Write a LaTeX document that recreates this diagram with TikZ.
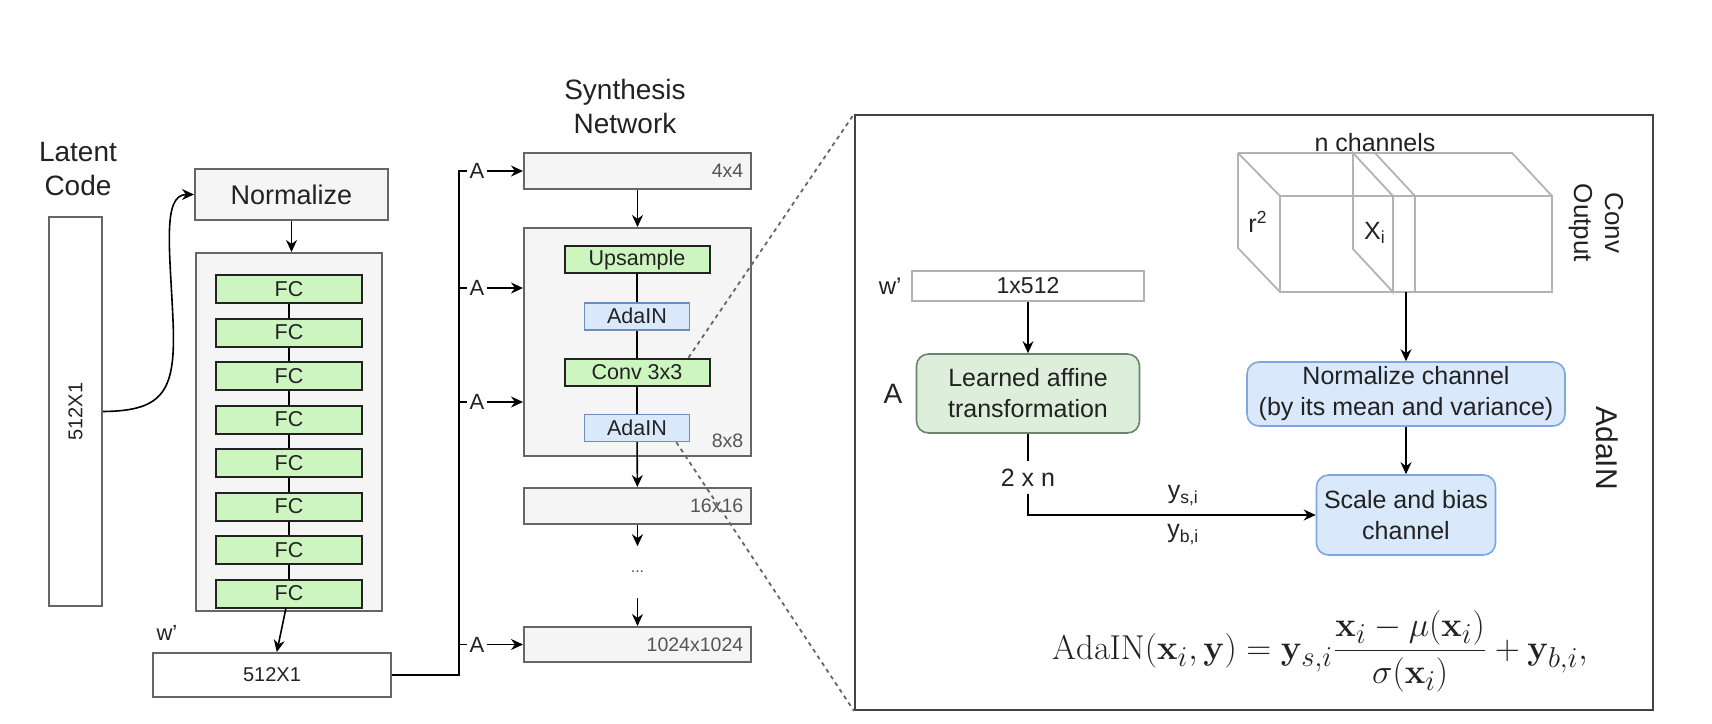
\documentclass[tikz,border=0pt]{standalone}
\usepackage[no-math]{fontspec}
\setmainfont{Liberation Sans}
\usetikzlibrary{positioning,arrows.meta,calc}
\definecolor{boxGray}{HTML}{F5F5F5}
\definecolor{lineGray}{HTML}{666666}
\definecolor{fcGreen}{HTML}{CDF5BF}
\definecolor{affGreen}{HTML}{DDEEDA}
\definecolor{affLine}{HTML}{6E836E}
\definecolor{ninBlue}{HTML}{DAE8FC}
\definecolor{ninLine}{HTML}{6C8EBF}
\definecolor{panBlue}{HTML}{7EA6E0}
\definecolor{cubeGray}{HTML}{B3B3B3}
\definecolor{inkDark}{HTML}{222222}
\definecolor{dimGray}{HTML}{555555}

\begin{document}
\begin{tikzpicture}[x=0.5pt, y=-0.5pt, >={Stealth[length=6pt,width=5.5pt]}, line width=0.8pt, text=inkDark,
          title/.style={font=\fontsize{14}{17}\selectfont, align=center},
          plain/.style={draw=lineGray, fill=boxGray, line width=1pt, inner sep=0pt},
          vec/.style={draw=lineGray, fill=white, line width=1pt, inner sep=0pt, font=\fontsize{10}{12}\selectfont},
          layer/.style={draw=inkDark, fill=fcGreen, line width=1pt, minimum width=73pt, minimum height=14pt, inner sep=0pt, font=\fontsize{10.75}{12}\selectfont},
          ada/.style={draw=ninLine, fill=ninBlue, line width=0.8pt, minimum width=52.5pt, minimum height=13.5pt, inner sep=0pt, font=\fontsize{10.75}{12}\selectfont},
          res/.style={plain, minimum width=113.5pt},
          dimlbl/.style={anchor=east, text=dimGray, inner sep=0pt, font=\fontsize{9.75}{11}\selectfont},
          tap/.style={inner sep=1pt, font=\fontsize{11}{12}\selectfont},
          ptxt/.style={font=\fontsize{12.5}{15.5}\selectfont, align=center},
          rbox/.style={ptxt, rounded corners=6pt, line width=0.8pt, inner sep=0pt},
          cubeline/.style={draw=cubeGray, line width=0.9pt},
          zoomline/.style={draw=lineGray, dash pattern=on 2pt off 2pt, line width=0.9pt}]
        \useasboundingbox (0,0) rectangle (1712,723);
        % mapping network
        \node[title] (latentlbl) at (78,169) {Latent\\Code};
        \node[vec, minimum width=26.5pt, minimum height=194.5pt] (latent) at (75.5,411.5) {};
        \node[rotate=90, font=\fontsize{10}{12}\selectfont] (latenttxt) at (latent.center) {512X1};
        \node[plain, font=\fontsize{13.5}{16}\selectfont, minimum width=96.5pt, minimum height=25.5pt] (norm) at (291.5,194.5) {Normalize};
        \node[plain, minimum width=93pt, minimum height=179pt] (stack) at (289,432) {};
        \node[layer] (fc1) at (289,289) {FC};
        \node[layer, below=6.75pt of fc1] (fc2) {FC};
        \node[layer, below=6.75pt of fc2] (fc3) {FC};
        \node[layer, below=6.75pt of fc3] (fc4) {FC};
        \node[layer, below=6.75pt of fc4] (fc5) {FC};
        \node[layer, below=6.75pt of fc5] (fc6) {FC};
        \node[layer, below=6.75pt of fc6] (fc7) {FC};
        \node[layer, below=6.75pt of fc7] (fc8) {FC};
        \node[vec, minimum width=119pt, minimum height=22pt] (wvec) at (272,675) {512X1};
        \node[font=\fontsize{11}{12}\selectfont] (wlbl) at (167,633) {w'};
        \draw[->] (latent.east) .. controls (165,411) and (176,390) .. (173,320) .. controls (170,250) and (162,194.5) .. (norm.west);
        \draw[->] (norm.south) -- (norm.south |- stack.north);
        \draw (fc1) -- (fc2) -- (fc3) -- (fc4) -- (fc5) -- (fc6) -- (fc7) -- (fc8);
        \draw[->] (fc8) -- (wvec);
        % synthesis network
        \node[title] (synlbl) at (625,106) {Synthesis\\Network};
        \node[res, minimum height=18pt] (r4) at (637.5,171) {};
        \node[res, minimum height=114pt] (r8) at (637.5,342) {};
        \node[layer, minimum width=72.5pt, minimum height=13.5pt] (ups) at (637,259.5) {Upsample};
        \node[ada, below=14pt of ups] (ada1) {AdaIN};
        \node[layer, minimum width=72.5pt, minimum height=13.5pt, below=13.5pt of ada1] (conv) {Conv 3x3};
        \node[ada, below=13.5pt of conv] (ada2) {AdaIN};
        \node[res, minimum height=18pt] (r16) at (637.5,506) {};
        \node[text=dimGray, minimum height=25pt, inner sep=0pt, font=\fontsize{8}{9}\selectfont] (more) at (637.5,572) {...};
        \node[res, minimum height=17.5pt] (r1024) at (637.5,644.5) {};
        \node[dimlbl] at ([xshift=-4pt]r4.east) {4x4};
        \node[dimlbl] at ([xshift=-4pt, yshift=8pt]r8.south east) {8x8};
        \node[dimlbl] at ([xshift=-4pt]r16.east) {16x16};
        \node[dimlbl] at ([xshift=-4pt]r1024.east) {1024x1024};
        \draw[->] (r4) -- (r8);
        \draw (ups) -- (ada1) -- (conv) -- (ada2);
        \draw[->] (ada2) -- (r16);
        \draw[->] (r16) -- (more);
        \draw[->] (more) -- (r1024);
        % style taps
        \coordinate (bus) at (459,171);
        \node[tap] (a4) at (477,171) {A};
        \node[tap] (a8u) at (477,288) {A};
        \node[tap] (a8l) at (477,402) {A};
        \node[tap] (a1024) at (477,644.5) {A};
        \draw (wvec.east) -| (bus) -- (a4.west);
        \draw (bus |- a8u) -- (a8u.west);
        \draw (bus |- a8l) -- (a8l.west);
        \draw (bus |- a1024) -- (a1024.west);
        \draw[->] (a4) -- (r4);
        \draw[->] (a8u) -- (a8u -| r8.west);
        \draw[->] (a8l) -- (a8l -| r8.west);
        \draw[->] (a1024) -- (r1024);
        % AdaIN detail
        \node[draw=inkDark!85, line width=1pt, minimum width=399pt, minimum height=297.5pt] (panel) at (1254,412.5) {};
        \draw[zoomline] ([xshift=-11pt]conv.north east) -- (panel.north west);
        \draw[zoomline] ([xshift=-7pt]ada2.south east) -- (panel.south west);
        \node[vec, draw=cubeGray, minimum width=116pt, minimum height=15pt, font=\fontsize{11.5}{13}\selectfont] (wrow) at (1028,286) {1x512};
        \node[font=\fontsize{12}{14}\selectfont, left=1pt of wrow] (wrowlbl) {w'};
        \node[rbox, draw=affLine, fill=affGreen, minimum width=111.5pt, minimum height=39.5pt] (affine) at (1028,393.5) {Learned affine\\transformation};
        \node[font=\fontsize{14}{16}\selectfont, left=3pt of affine] (alab) {A};
        \node[ptxt, inner sep=0pt, minimum height=15.5pt] (dims) at (1028,477.5) {2 x n};
        \node[rbox, draw=panBlue, fill=ninBlue, minimum width=159pt, minimum height=32pt] (normch) at (1406,394) {Normalize channel\\(by its mean and variance)};
        \node[rbox, draw=panBlue, fill=ninBlue, minimum width=89.5pt, minimum height=40pt] (scale) at (1406,515) {Scale and bias\\channel};
        \draw[->] (wrow) -- (affine);
        \draw (affine) -- (dims);
        \draw[->] (dims.south) |- node[ptxt, pos=0.77, above=1pt] {y\textsubscript{s,i}} node[ptxt, pos=0.77, below=1pt] {y\textsubscript{b,i}} (scale.west);
        % conv output block
        \draw[cubeline] (1238,153) -- (1512,153) -- (1552,196);
        \draw[cubeline] (1280,196) rectangle (1552,292);
        \draw[cubeline] (1238,153) -- (1280,196);
        \draw[cubeline] (1238,153) -- (1238,248) -- (1280,292);
        \draw[cubeline] (1353,153) -- (1393,196) -- (1393,292) -- (1353,249) -- cycle;
        \draw[cubeline] (1375,153) -- (1415,196) -- (1415,292);
        \coordinate (cubebot) at (1406,292);
        \node[ptxt] (nch) at (1375,143) {n channels};
        \node[ptxt] (rsq) at (1258,222) {r\textsuperscript{2}};
        \node[ptxt] (xi) at (1375,233) {X\textsubscript{i}};
        \node[rotate=-90, align=center, font=\fontsize{13}{15.5}\selectfont] (convout) at (1596,223) {Conv\\Output};
        \node[rotate=-90, font=\fontsize{15}{17}\selectfont] (adalbl) at (1607,448) {AdaIN};
        \draw[->] (cubebot) -- (normch);
        \draw[->] (normch) -- (scale);
        \node[font=\fontsize{19}{23}\selectfont] (eq) at (1320,651) {$\displaystyle\mathrm{AdaIN}(\mathbf{x}_i,\mathbf{y}) = \mathbf{y}_{s,i}\frac{\mathbf{x}_i-\mu(\mathbf{x}_i)}{\sigma(\mathbf{x}_i)}+\mathbf{y}_{b,i},$};
      \end{tikzpicture}
\end{document}
